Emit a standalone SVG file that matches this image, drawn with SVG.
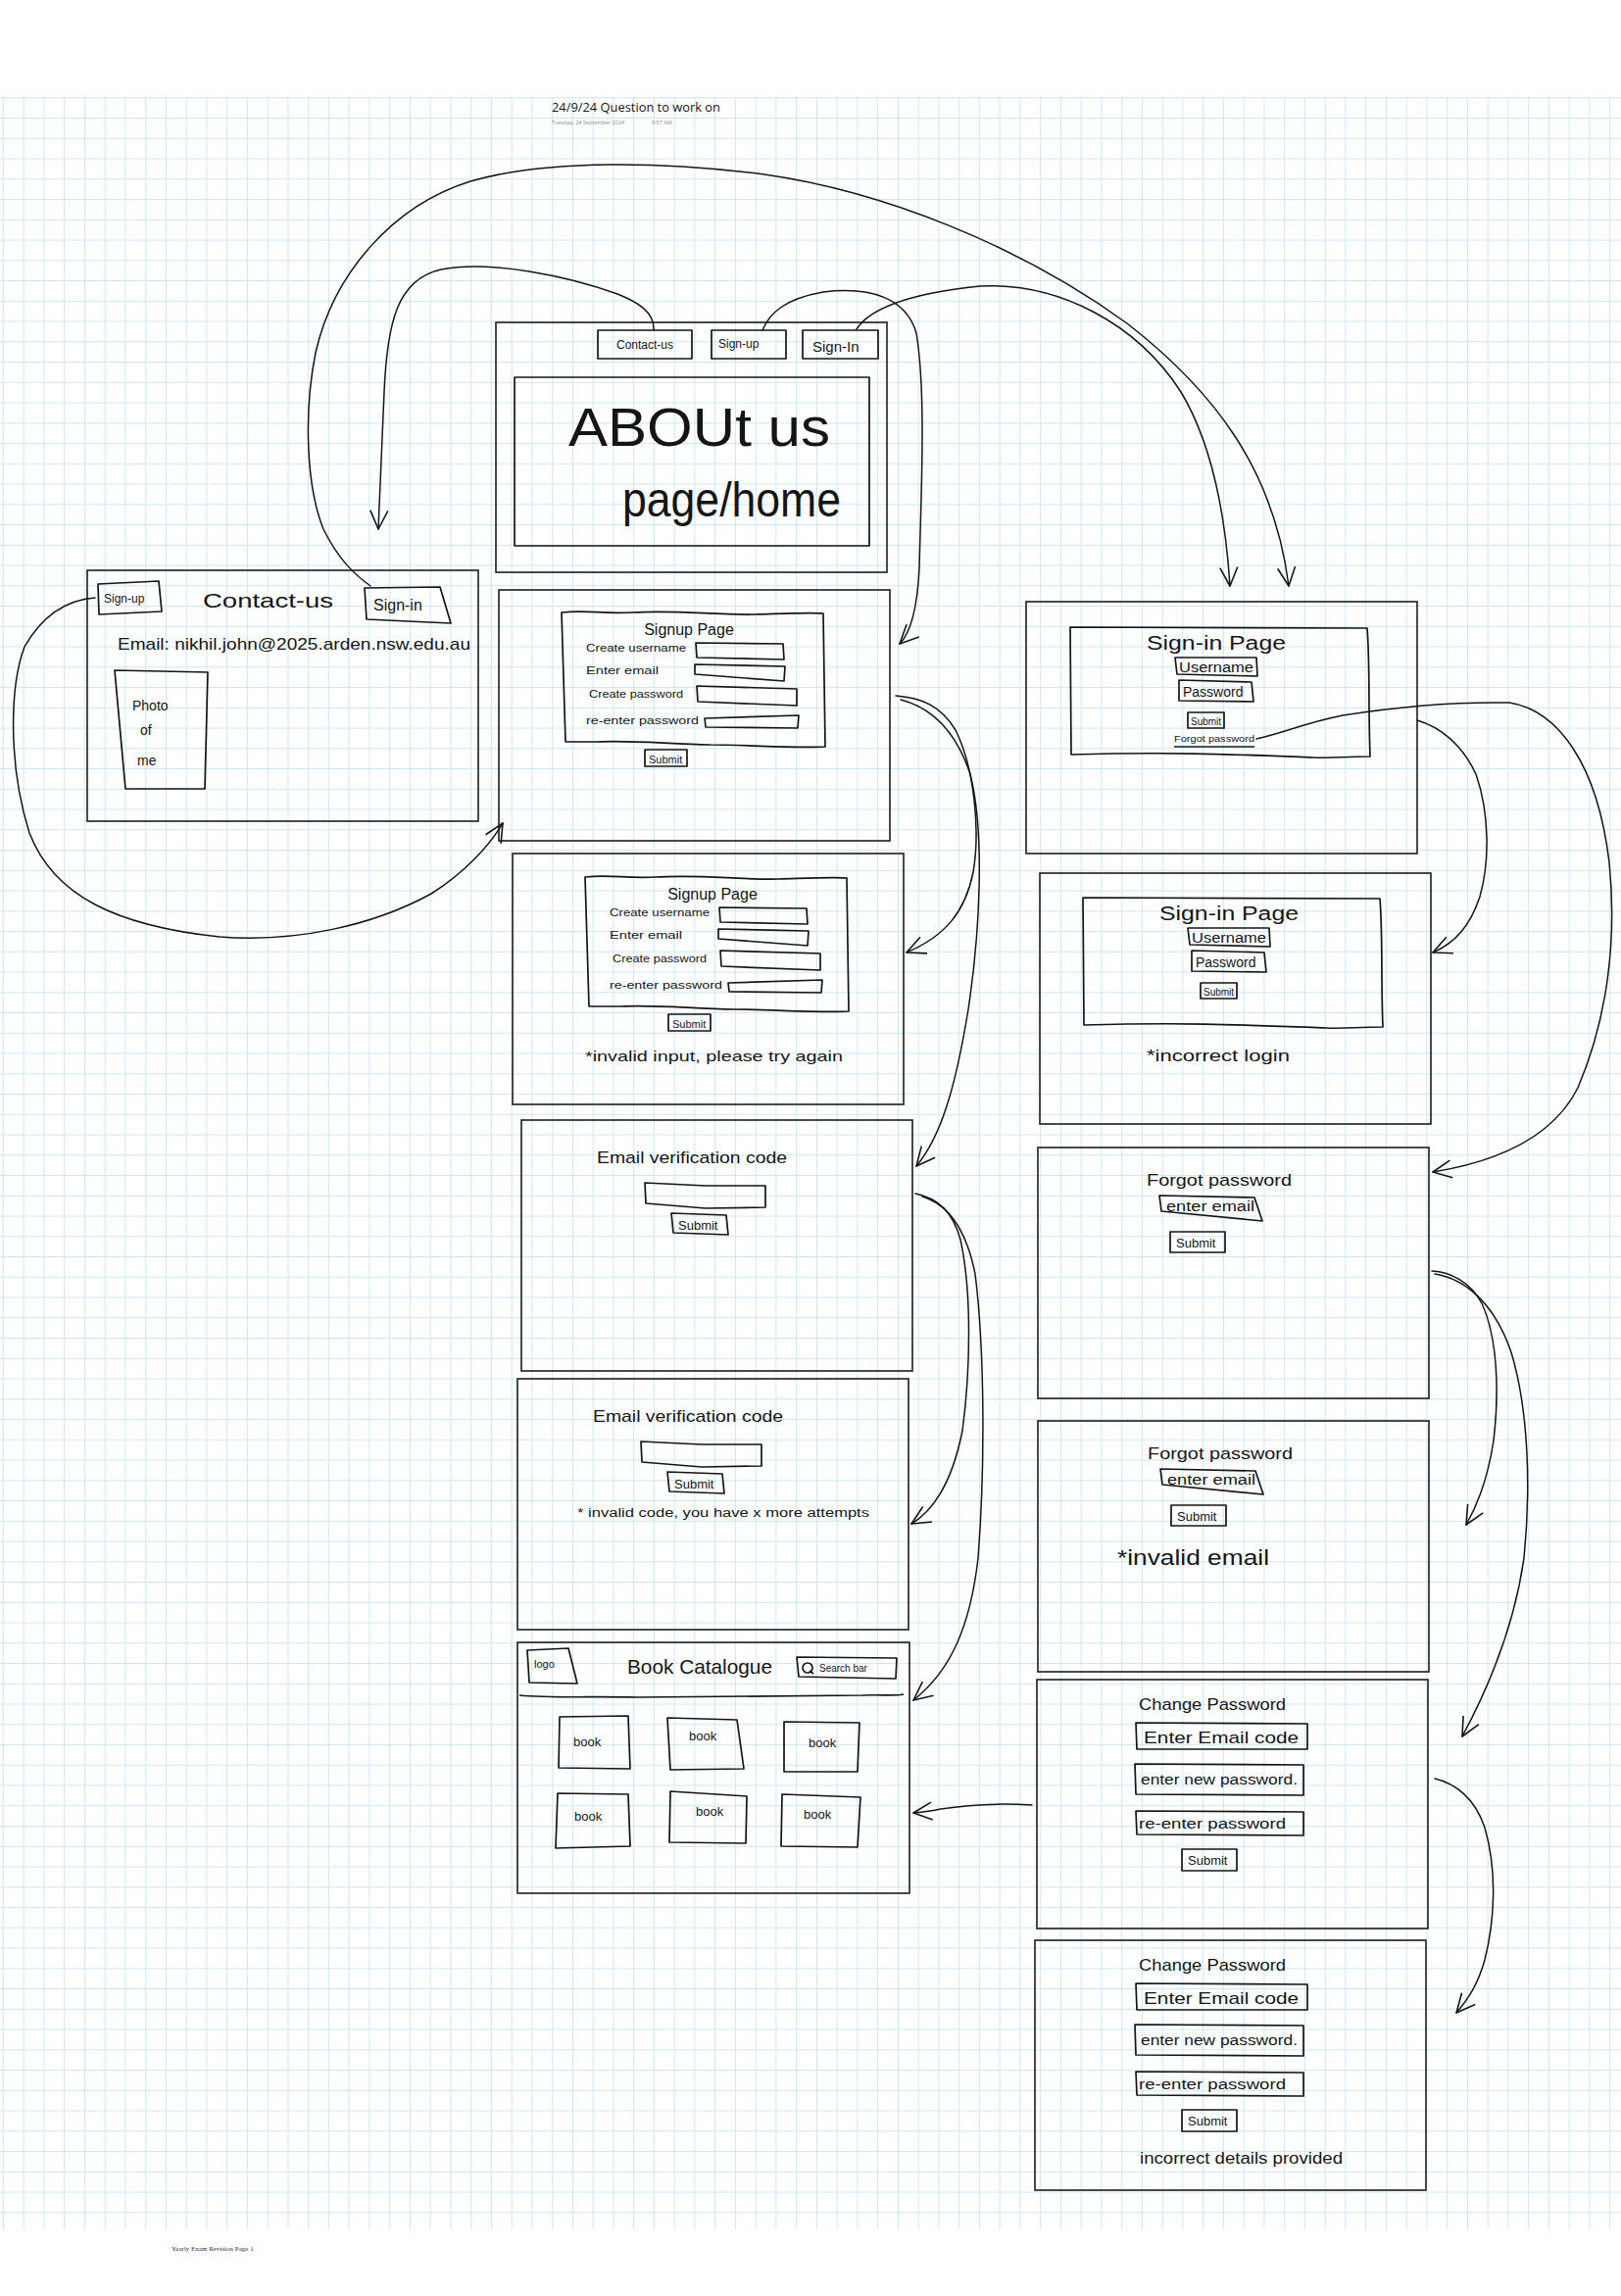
<svg xmlns="http://www.w3.org/2000/svg" width="1654" height="2343" viewBox="0 0 1654 2343">
<style>
.hw{font-family:"Liberation Sans","DejaVu Sans",sans-serif;fill:#151515}
.frame{fill:none;stroke:#2a2a2a;stroke-width:1.7}
.box{fill:none;stroke:#151515;stroke-width:1.7;stroke-linejoin:round}
.con{fill:none;stroke:#151515;stroke-width:1.5;stroke-linecap:round;marker-end:url(#ah)}
</style>
<defs>
<pattern id="grid" x="2.9" y="99.3" width="20.75" height="20.75" patternUnits="userSpaceOnUse">
<path d="M0,0.5 H20.75 M0.5,0 V20.75" fill="none" stroke="#cde7f7" stroke-width="1"/>
</pattern>
<marker id="ah" viewBox="0 0 24 24" refX="22" refY="12" markerWidth="24" markerHeight="24" markerUnits="userSpaceOnUse" orient="auto">
<path d="M3,3 L22,12 L3,21" fill="none" stroke="#151515" stroke-width="1.6" stroke-linejoin="round"/>
</marker>
</defs>
<rect x="0" y="0" width="1654" height="2343" fill="#ffffff"/>
<rect x="0" y="99" width="1654" height="2176" fill="url(#grid)"/>

<g id="header">
<text x="563" y="114" class="hw" font-size="13.2" textLength="172" lengthAdjust="spacingAndGlyphs" style="font-family:'Open Sans','Liberation Sans',sans-serif">24/9/24 Question to work on</text>
<text x="563" y="127" font-size="5.5" fill="#8a8a8a" style="font-family:'Open Sans','Liberation Sans',sans-serif">Tuesday, 24 September 2024</text>
<text x="665" y="127" font-size="5.5" fill="#8a8a8a" style="font-family:'Open Sans','Liberation Sans',sans-serif">9:57 AM</text>
</g>

<g id="home">
<rect x="506" y="329" width="399" height="255" class="frame"/>
<rect x="610" y="337" width="96" height="29" class="box"/>
<text x="658" y="356" class="hw" font-size="12" text-anchor="middle">Contact-us</text>
<rect x="726" y="337" width="76" height="29" class="box"/>
<text x="733" y="355" class="hw" font-size="12">Sign-up</text>
<rect x="819" y="337" width="77" height="29" class="box"/>
<text x="829" y="359" class="hw" font-size="15">Sign-In</text>
<rect x="525" y="385" width="362" height="172" class="box"/>
<text x="580" y="455" class="hw" font-size="56" textLength="267" lengthAdjust="spacingAndGlyphs">ABOUt us</text>
<text x="635" y="527" class="hw" font-size="50" textLength="223" lengthAdjust="spacingAndGlyphs">page/home</text>
</g>

<g id="contact-us">
<rect x="89" y="582" width="399" height="256" class="frame"/>
<path class="box" d="M100,596 L162,593 L165,624 L101,627 Z"/>
<text x="106" y="615" class="hw" font-size="12">Sign-up</text>
<text x="207" y="620" class="hw" font-size="21" textLength="133" lengthAdjust="spacingAndGlyphs">Contact-us</text>
<path class="box" d="M372,600 L449,599 L460,636 L374,632 Z"/>
<text x="381" y="623" class="hw" font-size="16">Sign-in</text>
<text x="120" y="663" class="hw" font-size="17" textLength="360" lengthAdjust="spacingAndGlyphs">Email: nikhil.john@2025.arden.nsw.edu.au</text>
<path class="box" d="M117,684 L212,686 L209,805 L128,805 Z"/>
<text x="135" y="725" class="hw" font-size="14">Photo</text>
<text x="143" y="750" class="hw" font-size="14">of</text>
<text x="140" y="781" class="hw" font-size="14">me</text>
</g>

<g id="signup">
<rect x="509" y="602" width="399" height="256" class="frame"/>
<path class="box" d="M573,625 C600,622 615,627 645,625 C690,622 730,628 770,627 C805,626 825,625 840,626 L842,762 C810,764 765,760 725,760 C680,759 640,755 610,757 L577,757 Z"/>
<text x="703" y="648" class="hw" font-size="16" text-anchor="middle">Signup Page</text>
<text x="598" y="665" class="hw" font-size="11" textLength="102" lengthAdjust="spacingAndGlyphs">Create username</text>
<path class="box" d="M710,656 L799,657 L800,673 L711,671 Z"/>
<text x="598" y="688" class="hw" font-size="11" textLength="74" lengthAdjust="spacingAndGlyphs">Enter email</text>
<path class="box" d="M709,678 L801,680 L800,695 L709,688 Z"/>
<text x="601" y="712" class="hw" font-size="11" textLength="96" lengthAdjust="spacingAndGlyphs">Create password</text>
<path class="box" d="M711,700 L813,703 L813,720 L712,716 Z"/>
<text x="598" y="739" class="hw" font-size="11" textLength="115" lengthAdjust="spacingAndGlyphs">re-enter password</text>
<path class="box" d="M719,733 L815,730 L814,743 L720,742 Z"/>
<rect x="658" y="765" width="43" height="17" class="box"/>
<text x="662" y="779" class="hw" font-size="11">Submit</text>
</g>

<g id="signup-invalid">
<rect x="523" y="871" width="399" height="256" class="frame"/>
<g transform="translate(24,270)">
<path class="box" d="M573,625 C600,622 615,627 645,625 C690,622 730,628 770,627 C805,626 825,625 840,626 L842,762 C810,764 765,760 725,760 C680,759 640,755 610,757 L577,757 Z"/>
<text x="703" y="648" class="hw" font-size="16" text-anchor="middle">Signup Page</text>
<text x="598" y="665" class="hw" font-size="11" textLength="102" lengthAdjust="spacingAndGlyphs">Create username</text>
<path class="box" d="M710,656 L799,657 L800,673 L711,671 Z"/>
<text x="598" y="688" class="hw" font-size="11" textLength="74" lengthAdjust="spacingAndGlyphs">Enter email</text>
<path class="box" d="M709,678 L801,680 L800,695 L709,688 Z"/>
<text x="601" y="712" class="hw" font-size="11" textLength="96" lengthAdjust="spacingAndGlyphs">Create password</text>
<path class="box" d="M711,700 L813,703 L813,720 L712,716 Z"/>
<text x="598" y="739" class="hw" font-size="11" textLength="115" lengthAdjust="spacingAndGlyphs">re-enter password</text>
<path class="box" d="M719,733 L815,730 L814,743 L720,742 Z"/>
<rect x="658" y="765" width="43" height="17" class="box"/>
<text x="662" y="779" class="hw" font-size="11">Submit</text>
</g>
<text x="597" y="1083" class="hw" font-size="15" textLength="263" lengthAdjust="spacingAndGlyphs">*invalid input, please try again</text>
</g>

<g id="email-verification">
<rect x="532" y="1143" width="399" height="256" class="frame"/>
<text x="609" y="1187" class="hw" font-size="17" textLength="194" lengthAdjust="spacingAndGlyphs">Email verification code</text>
<path class="box" d="M658,1207 L720,1210 L781,1210 L781,1232 L720,1233 L659,1228 Z"/>
<path class="box" d="M685,1238 L741,1240 L743,1260 L687,1258 Z"/>
<text x="692" y="1255" class="hw" font-size="13">Submit</text>
</g>

<g id="email-verification-invalid">
<rect x="528" y="1407" width="399" height="256" class="frame"/>
<g transform="translate(-4,264)">
<text x="609" y="1187" class="hw" font-size="17" textLength="194" lengthAdjust="spacingAndGlyphs">Email verification code</text>
<path class="box" d="M658,1207 L720,1210 L781,1210 L781,1232 L720,1233 L659,1228 Z"/>
<path class="box" d="M685,1238 L741,1240 L743,1260 L687,1258 Z"/>
<text x="692" y="1255" class="hw" font-size="13">Submit</text>
</g>
<text x="589" y="1548" class="hw" font-size="12" textLength="298" lengthAdjust="spacingAndGlyphs">* invalid code, you have x more attempts</text>
</g>

<g id="book-catalogue">
<rect x="528" y="1676" width="400" height="256" class="frame"/>
<path class="box" d="M538,1684 L580,1682 L589,1718 L540,1717 Z"/>
<text x="545" y="1702" class="hw" font-size="11">logo</text>
<text x="640" y="1708" class="hw" font-size="21" textLength="148" lengthAdjust="spacingAndGlyphs">Book Catalogue</text>
<path class="box" d="M813,1691 L915,1692 L914,1713 L815,1711 Z"/>
<circle cx="824" cy="1702" r="5" class="box" stroke-width="1.4"/>
<path class="box" d="M826,1705 L830,1708" stroke-width="1.4"/>
<text x="836" y="1706" class="hw" font-size="10">Search bar</text>
<path class="box" d="M530,1730 C560,1733 600,1731 650,1732 C720,1731 800,1730 880,1730 C900,1729 910,1731 922,1729"/>
<path class="box" d="M571,1752 L641,1751 L643,1805 L570,1804 Z"/>
<text x="585" y="1782" class="hw" font-size="13">book</text>
<path class="box" d="M681,1753 L752,1755 L759,1805 L684,1806 Z"/>
<text x="703" y="1776" class="hw" font-size="13">book</text>
<path class="box" d="M800,1757 L877,1758 L875,1808 L800,1808 Z"/>
<text x="825" y="1783" class="hw" font-size="13">book</text>
<path class="box" d="M569,1830 L641,1831 L643,1884 L567,1886 Z"/>
<text x="586" y="1858" class="hw" font-size="13">book</text>
<path class="box" d="M684,1828 L762,1833 L761,1881 L683,1880 Z"/>
<text x="710" y="1853" class="hw" font-size="13">book</text>
<path class="box" d="M798,1831 L878,1834 L875,1885 L797,1884 Z"/>
<text x="820" y="1856" class="hw" font-size="13">book</text>
</g>

<g id="sign-in">
<rect x="1047" y="614" width="399" height="257" class="frame"/>
<path class="box" d="M1092,640 L1395,641 C1398,680 1396,720 1398,772 C1370,772 1360,774 1340,773 C1260,770 1200,767 1093,770 Z"/>
<text x="1241" y="663" class="hw" font-size="20" text-anchor="middle" textLength="142" lengthAdjust="spacingAndGlyphs">Sign-in Page</text>
<path class="box" d="M1199,671 L1282,671 L1283,690 L1201,688 Z"/>
<text x="1203" y="686" class="hw" font-size="14" textLength="76" lengthAdjust="spacingAndGlyphs">Username</text>
<path class="box" d="M1203,694 L1277,696 L1279,716 L1203,715 Z"/>
<text x="1207" y="711" class="hw" font-size="14">Password</text>
<rect x="1212" y="727" width="37" height="16" class="box"/>
<text x="1215" y="740" class="hw" font-size="10">Submit</text>
<text x="1198" y="757" class="hw" font-size="9" textLength="82" lengthAdjust="spacingAndGlyphs">Forgot password</text>
<path class="box" d="M1198,762 L1280,762" stroke-width="1.4"/>
</g>

<g id="sign-in-incorrect">
<rect x="1061" y="891" width="399" height="256" class="frame"/>
<g transform="translate(13,276)">
<path class="box" d="M1092,640 L1395,641 C1398,680 1396,720 1398,772 C1370,772 1360,774 1340,773 C1260,770 1200,767 1093,770 Z"/>
<text x="1241" y="663" class="hw" font-size="20" text-anchor="middle" textLength="142" lengthAdjust="spacingAndGlyphs">Sign-in Page</text>
<path class="box" d="M1199,671 L1282,671 L1283,690 L1201,688 Z"/>
<text x="1203" y="686" class="hw" font-size="14" textLength="76" lengthAdjust="spacingAndGlyphs">Username</text>
<path class="box" d="M1203,694 L1277,696 L1279,716 L1203,715 Z"/>
<text x="1207" y="711" class="hw" font-size="14">Password</text>
<rect x="1212" y="727" width="37" height="16" class="box"/>
<text x="1215" y="740" class="hw" font-size="10">Submit</text>
</g>
<text x="1170" y="1083" class="hw" font-size="17" textLength="146" lengthAdjust="spacingAndGlyphs">*incorrect login</text>
</g>

<g id="forgot-password">
<rect x="1059" y="1171" width="399" height="256" class="frame"/>
<text x="1170" y="1210" class="hw" font-size="17" textLength="148" lengthAdjust="spacingAndGlyphs">Forgot password</text>
<path class="box" d="M1183,1220 L1280,1222 L1288,1246 L1185,1236 Z"/>
<text x="1190" y="1236" class="hw" font-size="14" textLength="90" lengthAdjust="spacingAndGlyphs">enter email</text>
<rect x="1194" y="1257" width="56" height="21" class="box"/>
<text x="1200" y="1273" class="hw" font-size="13">Submit</text>
</g>

<g id="forgot-password-invalid">
<rect x="1059" y="1450" width="399" height="256" class="frame"/>
<g transform="translate(1,279)">
<text x="1170" y="1210" class="hw" font-size="17" textLength="148" lengthAdjust="spacingAndGlyphs">Forgot password</text>
<path class="box" d="M1183,1220 L1280,1222 L1288,1246 L1185,1236 Z"/>
<text x="1190" y="1236" class="hw" font-size="14" textLength="90" lengthAdjust="spacingAndGlyphs">enter email</text>
<rect x="1194" y="1257" width="56" height="21" class="box"/>
<text x="1200" y="1273" class="hw" font-size="13">Submit</text>
</g>
<text x="1140" y="1597" class="hw" font-size="22" textLength="155" lengthAdjust="spacingAndGlyphs">*invalid email</text>
</g>

<g id="change-password">
<rect x="1058" y="1714" width="399" height="254" class="frame"/>
<text x="1237" y="1745" class="hw" font-size="17" text-anchor="middle" textLength="150" lengthAdjust="spacingAndGlyphs">Change Password</text>
<path class="box" d="M1159,1758 L1334,1759 L1334,1785 L1160,1785 Z"/>
<text x="1167" y="1779" class="hw" font-size="17" textLength="158" lengthAdjust="spacingAndGlyphs">Enter Email code</text>
<path class="box" d="M1158,1800 L1330,1801 L1330,1832 L1159,1831 Z"/>
<text x="1164" y="1821" class="hw" font-size="14" textLength="160" lengthAdjust="spacingAndGlyphs">enter new password.</text>
<path class="box" d="M1159,1848 L1330,1849 L1330,1873 L1160,1872 Z"/>
<text x="1162" y="1866" class="hw" font-size="14" textLength="150" lengthAdjust="spacingAndGlyphs">re-enter password</text>
<rect x="1206" y="1887" width="56" height="22" class="box"/>
<text x="1212" y="1903" class="hw" font-size="13">Submit</text>
</g>

<g id="change-password-incorrect">
<rect x="1056" y="1980" width="399" height="255" class="frame"/>
<g transform="translate(0,266)">
<text x="1237" y="1745" class="hw" font-size="17" text-anchor="middle" textLength="150" lengthAdjust="spacingAndGlyphs">Change Password</text>
<path class="box" d="M1159,1758 L1334,1759 L1334,1785 L1160,1785 Z"/>
<text x="1167" y="1779" class="hw" font-size="17" textLength="158" lengthAdjust="spacingAndGlyphs">Enter Email code</text>
<path class="box" d="M1158,1800 L1330,1801 L1330,1832 L1159,1831 Z"/>
<text x="1164" y="1821" class="hw" font-size="14" textLength="160" lengthAdjust="spacingAndGlyphs">enter new password.</text>
<path class="box" d="M1159,1848 L1330,1849 L1330,1873 L1160,1872 Z"/>
<text x="1162" y="1866" class="hw" font-size="14" textLength="150" lengthAdjust="spacingAndGlyphs">re-enter password</text>
<rect x="1206" y="1887" width="56" height="22" class="box"/>
<text x="1212" y="1903" class="hw" font-size="13">Submit</text>
</g>
<text x="1163" y="2208" class="hw" font-size="16" textLength="207" lengthAdjust="spacingAndGlyphs">incorrect details provided</text>
</g>

<g id="connectors">
<path class="con" d="M667,337 C668,318 650,308 630,300 C580,282 500,265 450,275 C405,285 395,330 392,400 L386,540"/>
<path class="con" d="M378,598 C360,585 345,570 330,540 C312,495 310,420 322,360 C340,280 400,210 480,185 C560,162 680,165 780,178 C900,195 1040,250 1150,330 C1240,400 1300,480 1315,598"/>
<path class="con" d="M778,337 C785,320 800,305 840,298 C890,292 925,305 935,340 C945,400 940,500 938,580 C936,620 930,645 918,657"/>
<path class="con" d="M874,336 C885,318 920,300 1000,292 C1080,288 1160,330 1205,400 C1235,450 1250,520 1255,598"/>
<path class="con" d="M97,610 C70,612 45,625 25,660 C10,700 8,780 30,850 C55,915 120,945 224,956 C300,962 380,945 440,912 C475,890 500,862 513,840"/>
<path class="con" d="M914,710 C940,712 960,720 975,745 C995,785 1000,850 993,890 C985,930 965,955 925,972"/>
<path class="con" d="M919,714 C950,722 975,745 990,790 C1005,850 1000,950 988,1030 C975,1110 960,1160 935,1190"/>
<path class="con" d="M934,1218 C955,1222 972,1235 980,1265 C992,1320 990,1400 982,1460 C972,1510 955,1540 930,1555"/>
<path class="con" d="M941,1221 C965,1228 985,1250 995,1300 C1005,1380 1005,1500 998,1590 C990,1660 970,1705 932,1735"/>
<path class="con" d="M1282,754 C1310,748 1330,738 1370,730 C1420,722 1480,716 1540,717 C1590,725 1630,780 1642,880 C1650,960 1640,1040 1610,1110 C1585,1160 1530,1185 1462,1196"/>
<path class="con" d="M1446,735 C1470,742 1492,760 1506,790 C1520,830 1520,880 1510,915 C1500,945 1485,962 1462,972"/>
<path class="con" d="M1461,1297 C1480,1298 1500,1308 1512,1330 C1528,1365 1530,1420 1524,1470 C1518,1510 1508,1535 1496,1556"/>
<path class="con" d="M1464,1300 C1495,1305 1525,1330 1542,1380 C1560,1440 1562,1520 1555,1590 C1545,1660 1520,1720 1492,1772"/>
<path class="con" d="M1464,1815 C1485,1820 1505,1835 1515,1865 C1528,1910 1525,1960 1515,2000 C1508,2025 1498,2040 1486,2054"/>
<path class="con" d="M1053,1842 C1020,1840 985,1842 960,1846 C950,1848 942,1849 932,1850"/>
</g>

<text x="175" y="2297" font-size="7" fill="#333" style="font-family:'Liberation Serif',serif">Yearly Exam Revision Page 1</text>
</svg>
